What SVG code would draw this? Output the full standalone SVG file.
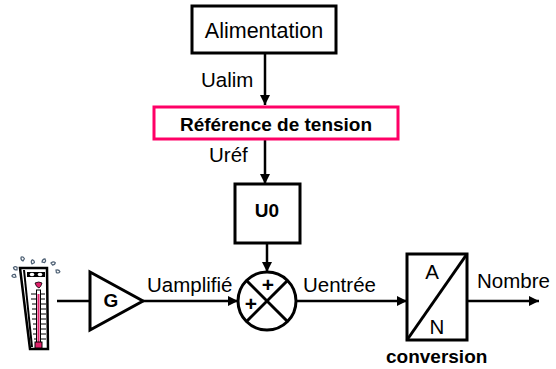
<svg xmlns="http://www.w3.org/2000/svg" width="556" height="369" viewBox="0 0 556 369">
  <defs>
    <marker id="arrow" viewBox="0 0 10 10" refX="10" refY="5" markerWidth="4" markerHeight="4" orient="auto" markerUnits="strokeWidth">
      <path d="M0,0 L10,5 L0,10 Z" fill="#000"/>
    </marker>
    <path id="drop" d="M0,0 q-3,-1 -2.5,-3.5 q2,-1 3.5,1 z" fill="#fff" stroke="#4d5f73" stroke-width="1.2"/>
    <style>
      .box { fill: #fff; stroke: #000; stroke-width: 3; }
      .wire { fill: none; stroke: #000; stroke-width: 2.5; }
      .lbl { font-family: "Liberation Sans", Arial, sans-serif; font-size: 20.5px; fill: #000; }
      .bold { font-family: "Liberation Sans", Arial, sans-serif; font-size: 19px; font-weight: bold; fill: #000; }
    </style>
  </defs>

  <rect width="556" height="369" fill="#fff"/>

  <!-- connectors -->
  <g id="connectors">
    <line class="wire" x1="265" y1="53" x2="265" y2="105" marker-end="url(#arrow)"/>
    <line class="wire" x1="265" y1="139" x2="265" y2="184" marker-end="url(#arrow)"/>
    <line class="wire" x1="267" y1="243" x2="267" y2="272" marker-end="url(#arrow)"/>
    <line class="wire" x1="57" y1="301" x2="90" y2="301"/>
    <line class="wire" x1="143" y1="301" x2="238" y2="301" marker-end="url(#arrow)"/>
    <line class="wire" x1="297" y1="301" x2="407" y2="301" marker-end="url(#arrow)"/>
    <line class="wire" x1="468" y1="301" x2="539" y2="301" marker-end="url(#arrow)"/>
    <text class="lbl" x="201" y="87">Ualim</text>
    <text class="lbl" x="209" y="162">Uréf</text>
    <text class="lbl" x="147" y="292">Uamplifié</text>
    <text class="lbl" x="303" y="292">Uentrée</text>
    <text class="lbl" x="477" y="288">Nombre</text>
  </g>

  <!-- power supply -->
  <g id="alimentation">
    <rect class="box" x="192" y="6" width="144" height="47"/>
    <text class="lbl" x="264" y="38" text-anchor="middle" style="font-size:21.5px">Alimentation</text>
  </g>

  <!-- voltage reference -->
  <g id="reference">
    <rect x="154" y="107" width="244" height="32" fill="#fff" stroke="#ff0066" stroke-width="3"/>
    <text class="bold" x="276" y="131" text-anchor="middle">Référence de tension</text>
  </g>

  <!-- offset voltage -->
  <g id="u0">
    <rect class="box" x="235" y="184" width="65" height="59"/>
    <text class="bold" x="267" y="217" text-anchor="middle">U0</text>
  </g>

  <!-- thermometer sensor -->
  <g id="capteur">
    <!-- sweat drops -->
    <use href="#drop" transform="translate(17,270) rotate(-20)"/>
    <use href="#drop" transform="translate(16,277) rotate(-40)"/>
    <use href="#drop" transform="translate(23,261) rotate(10)"/>
    <use href="#drop" transform="translate(32,264) rotate(40)"/>
    <use href="#drop" transform="translate(42,262) rotate(80)"/>
    <use href="#drop" transform="translate(51,263) rotate(120)"/>
    <use href="#drop" transform="translate(56,270) rotate(150)"/>
    <!-- body with shadow edge -->
    <path d="M20,268 L47,268 L48,349 L30,349 Z" fill="#fff" stroke="#000" stroke-width="2.5"/>
    <path d="M24,270 L32,347" stroke="#000" stroke-width="2" fill="none"/>
    <!-- glasses -->
    <rect x="27" y="272" width="18" height="5" fill="#000"/>
    <ellipse cx="32" cy="274.5" rx="2.3" ry="1.8" fill="#fff"/>
    <ellipse cx="40" cy="274.5" rx="2.3" ry="1.8" fill="#fff"/>
    <!-- mouth -->
    <path d="M35,283 q4,-2 7,0 q-1,4 -3,5 q-3,-1 -4,-5 Z" fill="#e0206a" stroke="#000" stroke-width="0.8"/>
    <!-- scale ticks -->
    <g stroke="#000" stroke-width="1">
      <line x1="31" y1="294" x2="45" y2="294"/>
      <line x1="31" y1="299" x2="45" y2="299"/>
      <line x1="32" y1="304" x2="46" y2="304"/>
      <line x1="32" y1="309" x2="46" y2="309"/>
      <line x1="32" y1="314" x2="46" y2="314"/>
      <line x1="32" y1="319" x2="46" y2="319"/>
      <line x1="33" y1="324" x2="46" y2="324"/>
      <line x1="33" y1="329" x2="46" y2="329"/>
      <line x1="33" y1="334" x2="46" y2="334"/>
      <line x1="34" y1="339" x2="46" y2="339"/>
    </g>
    <!-- tube and mercury -->
    <rect x="36.5" y="290" width="4" height="54" fill="#fff" stroke="#000" stroke-width="1"/>
    <line x1="38.5" y1="294" x2="38.5" y2="344" stroke="#e0206a" stroke-width="2"/>
    <rect x="35" y="342" width="7" height="6" fill="#e0206a" stroke="#000" stroke-width="1"/>
  </g>

  <!-- amplifier -->
  <g id="gain">
    <polygon points="90,272 143,301 90,330" fill="#fff" stroke="#000" stroke-width="3" stroke-linejoin="miter"/>
    <text class="bold" x="111" y="307" text-anchor="middle">G</text>
  </g>

  <!-- summing junction -->
  <g id="sommateur">
    <circle cx="267" cy="301" r="29" fill="#fff" stroke="#000" stroke-width="3"/>
    <line x1="246.5" y1="280.5" x2="287.5" y2="321.5" stroke="#000" stroke-width="3"/>
    <line x1="287.5" y1="280.5" x2="246.5" y2="321.5" stroke="#000" stroke-width="3"/>
    <text class="bold" x="268" y="292" text-anchor="middle" style="font-size:21px">+</text>
    <text class="bold" x="251" y="311" text-anchor="middle" style="font-size:21px">+</text>
  </g>

  <!-- analog to digital converter -->
  <g id="can">
    <rect class="box" x="407" y="254" width="60" height="86"/>
    <line x1="407" y1="340" x2="467" y2="254" stroke="#000" stroke-width="3"/>
    <text class="lbl" x="432" y="279" text-anchor="middle">A</text>
    <text class="lbl" x="437" y="334" text-anchor="middle">N</text>
    <text class="bold" x="386" y="363">conversion</text>
  </g>
</svg>
